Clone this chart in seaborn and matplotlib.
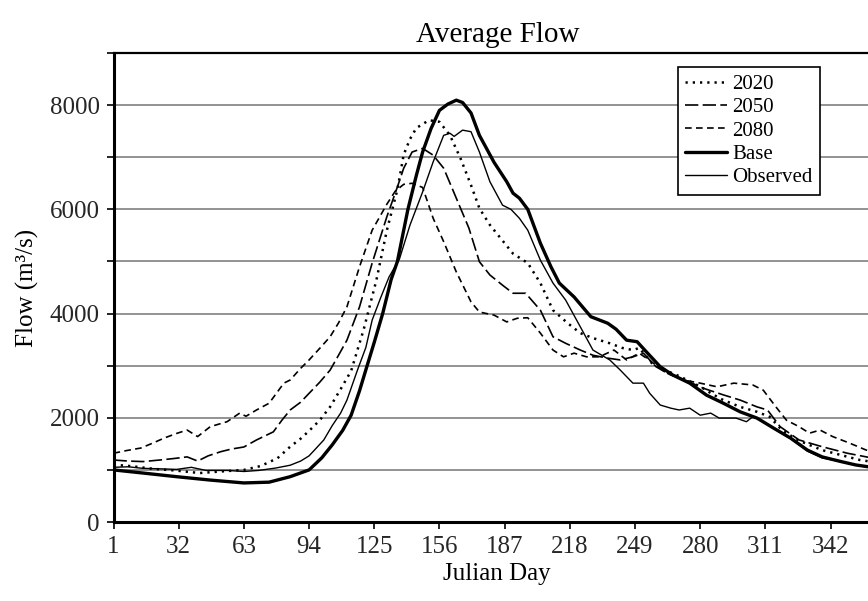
import pandas as pd
import matplotlib
matplotlib.use('Agg')
import matplotlib.pyplot as plt
import seaborn as sns

# ── data ─────────────────────────────────────────────────────
base_day = [1, 15, 31, 47, 63, 75, 85, 94, 100, 105, 110, 114, 118, 121, 125, 129, 133,
            136, 141, 145, 148, 152, 156, 160, 164, 167, 171, 175, 182, 188, 191, 194,
            198, 204, 209, 213, 220, 228, 236, 240, 245, 250, 255, 261, 267, 275, 283,
            291, 299, 307, 315, 323, 331, 338, 347, 354, 360, 366]
base_flow = [1000, 940, 870, 805, 750, 765, 870, 1000, 1230, 1480, 1760, 2050, 2520, 2920,
             3450, 4000, 4650, 5000, 6000, 6650, 7100, 7550, 7900, 8020, 8095, 8050, 7850,
             7420, 6900, 6530, 6310, 6215, 6000, 5350, 4900, 4585, 4320, 3940, 3815, 3700,
             3490, 3460, 3240, 2980, 2820, 2665, 2435, 2280, 2115, 1995, 1800, 1610, 1380,
             1250, 1160, 1095, 1060, 1030]

obs_day = [1, 8, 15, 24, 31, 38, 45, 55, 63, 70, 78, 85, 90, 94, 97, 101, 105, 109, 112,
           117, 121, 124, 128, 132, 137, 142, 148, 153, 158, 161, 163, 167, 171, 175, 180,
           186, 190, 194, 198, 204, 210, 216, 223, 229, 237, 242, 248, 253, 256, 261, 266,
           270, 275, 280, 285, 289, 297, 302, 305, 310, 315, 323, 331, 338, 343, 350, 357, 366]
obs_flow = [1050, 1060, 1030, 1020, 1010, 1050, 990, 990, 970, 990, 1035, 1090, 1170, 1270,
            1400, 1575, 1850, 2090, 2340, 2915, 3350, 3875, 4300, 4700, 5050, 5700, 6335,
            6910, 7420, 7460, 7400, 7520, 7490, 7100, 6530, 6080, 6000, 5830, 5600, 5025,
            4585, 4260, 3745, 3300, 3110, 2915, 2665, 2665, 2470, 2245, 2185, 2150, 2185,
            2050, 2090, 1995, 1995, 1925, 2020, 1930, 1790, 1600, 1360, 1230, 1190, 1130,
            1070, 1020]

y2020_day = [1, 10, 20, 30, 42, 52, 63, 71, 79, 85, 90, 94, 99, 104, 109, 114, 120, 126,
             131, 136, 139, 142, 145, 151, 156, 161, 166, 171, 175, 180, 185, 191, 198, 204,
             210, 217, 223, 229, 237, 243, 248, 251, 257, 263, 270, 280, 286, 291, 299, 307,
             313, 319, 327, 338, 347, 356, 366]
y2020_flow = [1100, 1070, 1020, 990, 940, 970, 1000, 1075, 1225, 1445, 1600, 1750, 1950,
              2210, 2550, 2900, 3700, 4640, 5600, 6380, 7050, 7350, 7560, 7710, 7680, 7420,
              6980, 6465, 6020, 5700, 5450, 5150, 4970, 4585, 4065, 3815, 3625, 3530, 3430,
              3340, 3300, 3340, 3050, 2920, 2800, 2600, 2450, 2340, 2210, 2115, 2020, 1760,
              1560, 1380, 1285, 1190, 1130]

y2050_day = [1, 8, 15, 23, 30, 36, 41, 46, 52, 57, 63, 69, 77, 81, 85, 90, 94, 99, 104,
             108, 112, 118, 124, 131, 136, 139, 143, 148, 153, 158, 164, 170, 175, 180, 186,
             191, 197, 204, 210, 216, 223, 229, 236, 242, 248, 253, 259, 265, 273, 282, 291,
             299, 307, 312, 318, 327, 338, 350, 359, 366]
y2050_flow = [1190, 1170, 1160, 1190, 1220, 1250, 1170, 1270, 1350, 1400, 1440, 1575, 1730,
              1950, 2150, 2300, 2470, 2680, 2915, 3200, 3490, 4130, 4970, 5860, 6430, 6790,
              7100, 7170, 7040, 6790, 6215, 5640, 4995, 4740, 4545, 4390, 4390, 4065, 3555,
              3430, 3300, 3200, 3145, 3110, 3170, 3240, 2980, 2840, 2720, 2560, 2440, 2340,
              2210, 2150, 1830, 1575, 1445, 1320, 1250, 1200]

y2080_day = [1, 7, 14, 20, 25, 31, 36, 41, 47, 55, 61, 64, 69, 75, 82, 85, 90, 94, 99, 104,
             108, 112, 118, 124, 131, 135, 139, 143, 148, 153, 158, 164, 171, 175, 182, 188,
             193, 198, 204, 210, 215, 220, 226, 232, 239, 245, 251, 256, 264, 272, 280, 288,
             296, 305, 310, 316, 321, 327, 332, 337, 343, 351, 359, 366]
y2080_flow = [1320, 1370, 1420, 1520, 1610, 1700, 1765, 1640, 1830, 1925, 2090, 2030, 2150,
              2280, 2665, 2725, 2950, 3110, 3330, 3555, 3820, 4130, 4900, 5600, 6100, 6350,
              6480, 6500, 6420, 5830, 5380, 4800, 4225, 4030, 3970, 3840, 3910, 3920, 3625,
              3300, 3170, 3240, 3170, 3170, 3300, 3110, 3240, 3100, 2860, 2725, 2665, 2595,
              2665, 2630, 2530, 2210, 1955, 1830, 1705, 1765, 1640, 1515, 1380, 1300]

x_ticks = [1, 32, 63, 94, 125, 156, 187, 218, 249, 280, 311, 342]
y_ticks = [0, 1000, 2000, 3000, 4000, 5000, 6000, 7000, 8000, 9000]
y_labels = ['0', '', '2000', '', '4000', '', '6000', '', '8000', '']

# ── style ────────────────────────────────────────────────────
sns.set_theme(style='white')
plt.rcParams['font.family'] = ['Liberation Serif', 'DejaVu Serif']
plt.rcParams['text.color'] = 'black'
plt.rcParams['axes.labelcolor'] = 'black'

fig = plt.figure(figsize=(8.68, 6.01), dpi=100)
ax = fig.add_axes([0.1308, 0.1314, 0.8842, 0.7804])

series = [
    ('2020', y2020_day, y2020_flow, dict(linewidth=1.8, linestyle=(0, (0.9, 2.0)))),
    ('2050', y2050_day, y2050_flow, dict(linewidth=1.2, linestyle=(0, (8, 2.6)))),
    ('2080', y2080_day, y2080_flow, dict(linewidth=1.2, linestyle=(0, (4, 2.6)))),
    ('Base', base_day, base_flow, dict(linewidth=2.4, linestyle='-')),
    ('Observed', obs_day, obs_flow, dict(linewidth=1.0, linestyle='-')),
]
for name, d, f, kw in series:
    df = pd.DataFrame({'day': d, 'flow': f})
    sns.lineplot(data=df, x='day', y='flow', ax=ax, color='black', label=name,
                 estimator=None, sort=True, **kw)

ax.set_xlim(1, 366)
ax.set_ylim(0, 9000)
ax.set_xticks(x_ticks)
ax.set_xticklabels([str(t) for t in x_ticks])
ax.set_yticks(y_ticks)
ax.set_yticklabels(y_labels)
ax.tick_params(axis='both', direction='out', length=5, width=1.2, color='black',
               labelsize=18, pad=5, bottom=True, left=True)

# horizontal gridlines at every 1000
for y in y_ticks[1:-1]:
    ax.axhline(y, color='#808080', linewidth=1.2, zorder=0)

for side in ['left', 'bottom']:
    ax.spines[side].set_linewidth(2.2)
    ax.spines[side].set_color('black')
ax.spines['top'].set_linewidth(1.6)
ax.spines['top'].set_color('black')
ax.spines['right'].set_visible(False)

ax.set_title('Average Flow', fontsize=21, pad=8)
ax.set_xlabel('Julian Day', fontsize=18, labelpad=4)
ax.set_ylabel('Flow (m³/s)', fontsize=18, labelpad=8)

leg = ax.legend(loc='upper left', bbox_to_anchor=(0.7355, 0.970), borderaxespad=0,
                fontsize=15, frameon=True, fancybox=False, framealpha=1,
                edgecolor='black', handlelength=2.0, handletextpad=0.25,
                labelspacing=0.18, borderpad=0.35)
leg.get_frame().set_linewidth(1.2)

fig.savefig('out.png', dpi=100)
